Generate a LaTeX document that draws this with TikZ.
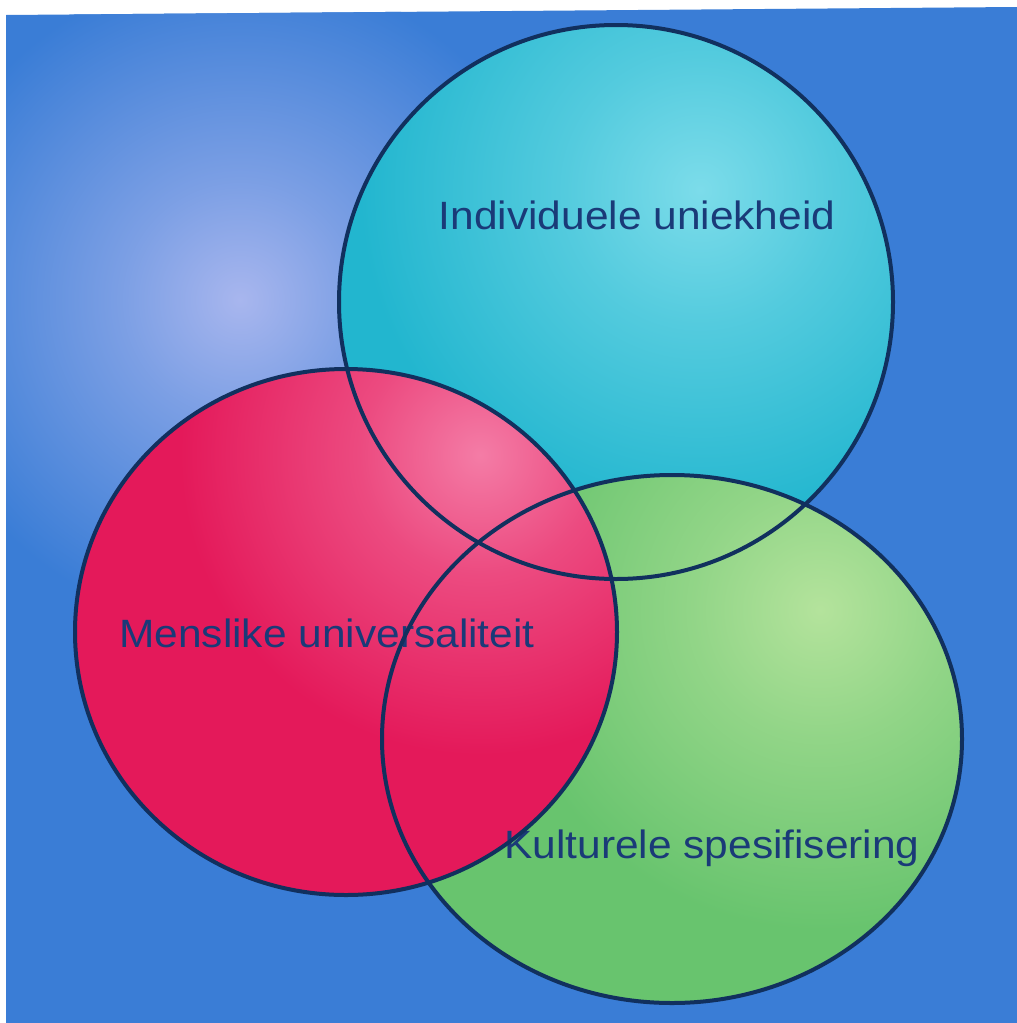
\documentclass[tikz,border=0pt]{standalone}
\usepackage{fontspec}
\setmainfont{Liberation Sans}
\definecolor{bgbase}{HTML}{3A7DD6}
\definecolor{bghi}{HTML}{A8B6EE}
\definecolor{cybase}{HTML}{22B6CF}
\definecolor{cyhi}{HTML}{7CDCEA}
\definecolor{rdbase}{HTML}{E4195A}
\definecolor{rdhi}{HTML}{F47CA6}
\definecolor{grbase}{HTML}{68C46E}
\definecolor{grhi}{HTML}{B4E39C}
\definecolor{edge}{HTML}{11305E}
\definecolor{txt}{HTML}{1A3A78}
\pgfdeclareradialshading{glowbg}{\pgfpointorigin}{color(0bp)=(bghi); color(9bp)=(bghi!60!bgbase); color(25bp)=(bgbase); color(50bp)=(bgbase)}
\pgfdeclareradialshading{glowcy}{\pgfpointorigin}{color(0bp)=(cyhi); color(10bp)=(cyhi!55!cybase); color(25bp)=(cybase); color(50bp)=(cybase)}
\pgfdeclareradialshading{glowrd}{\pgfpointorigin}{color(0bp)=(rdhi); color(10bp)=(rdhi!50!rdbase); color(25bp)=(rdbase); color(50bp)=(rdbase)}
\pgfdeclareradialshading{glowgr}{\pgfpointorigin}{color(0bp)=(grhi); color(10bp)=(grhi!55!grbase); color(25bp)=(grbase); color(50bp)=(grbase)}
\begin{document}
\begin{tikzpicture}[x=1pt,y=-1pt,
  outline/.style={draw=edge, line width=4pt},
  lbl/.style={font=\fontsize{39.5}{42}\selectfont, text=txt, xscale=1.075, anchor=base, inner sep=0pt}]
\useasboundingbox (0,0) rectangle (1017,1023);
\fill[white] (0,0) rectangle (1017,1023);
% background
\begin{scope}
  \clip (6,15) -- (1017,7) -- (1017,1023) -- (6,1023) -- cycle;
  \fill[bgbase] (0,0) rectangle (1017,1023);
  \shade[shading=glowbg] (240,300) circle (330pt);
\end{scope}
% cyan circle
\begin{scope}
  \clip (616,302) circle (277pt);
  \fill[cybase] (616,302) circle (277pt);
  \shade[shading=glowcy] (700,190) circle (340pt);
\end{scope}
% green circle
\begin{scope}
  \clip (672,739) ellipse [x radius=290pt, y radius=264pt];
  \fill[grbase] (672,739) ellipse [x radius=290pt, y radius=264pt];
  \shade[shading=glowgr] (820,610) circle (320pt);
\end{scope}
% red circle
\begin{scope}
  \clip (346,632) ellipse [x radius=271pt, y radius=263pt];
  \fill[rdbase] (346,632) ellipse [x radius=271pt, y radius=263pt];
  \shade[shading=glowrd] (480,455) circle (300pt);
\end{scope}
% labels
\node[lbl] (indiv) at (637,229) {Individuele uniekheid};
\node[lbl] (mens) at (327,647) {Menslike universaliteit};
\node[lbl] (kult) at (712,858) {Kulturele spesifisering};
% outlines
\draw[outline] (616,302) circle (277pt);
\draw[outline] (672,739) ellipse [x radius=290pt, y radius=264pt];
\draw[outline] (346,632) ellipse [x radius=271pt, y radius=263pt];
\end{tikzpicture}
\end{document}
